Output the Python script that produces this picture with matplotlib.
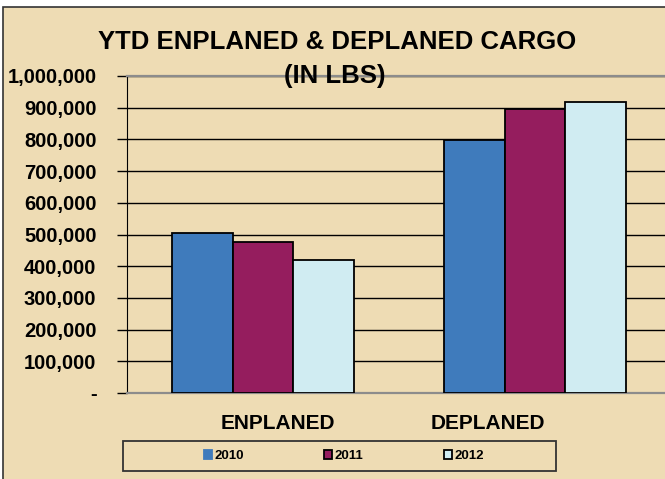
import matplotlib
matplotlib.use("Agg")
import matplotlib.pyplot as plt
import matplotlib.transforms as mtransforms
from matplotlib.patches import Rectangle
import numpy as np

# data
categories = ["ENPLANED", "DEPLANED"]
years = ["2010", "2011", "2012"]
cargo_2010 = [504000, 798000]
cargo_2011 = [476000, 895000]
cargo_2012 = [421000, 919000]
y_ticks = [0, 100000, 200000, 300000, 400000, 500000, 600000, 700000, 800000, 900000, 1000000]

colors = ["#3F7BBC", "#951D5E", "#D0ECF2"]
paper = "#EEDCB4"

plt.rcParams['font.family'] = ['Liberation Sans', 'DejaVu Sans']

fig = plt.figure(figsize=(6.65, 4.79), dpi=100, facecolor="white")

# parchment panel with dark frame on top / left
fig.patches.append(Rectangle((3 / 665, -0.05), 1.2, 1 - 7 / 479 + 0.05, transform=fig.transFigure,
                             facecolor=paper, edgecolor="#333333", lw=1.2, zorder=-5))

ax = fig.add_axes([127 / 665, 1 - 393 / 479, 544 / 665, 317 / 479])
ax.set_facecolor("none")

x = np.arange(len(categories))
w = 0.222
series = [cargo_2010, cargo_2011, cargo_2012]
for i, vals in enumerate(series):
    ax.bar(x + (i - 1) * w, vals, w, color=colors[i], edgecolor="black", lw=1.3,
           label=years[i], zorder=3)

ax.set_xlim(-0.5, 1.5)
ax.set_ylim(0, 1000000)
ax.set_yticks(y_ticks)
ax.set_yticklabels(["-" if v == 0 else f"{v:,}" for v in y_ticks],
                   fontsize=14.5, fontweight="bold")
ax.yaxis.grid(True, color="black", lw=1, zorder=1)
ax.tick_params(axis="y", length=7, width=1, pad=15, color="black")

ax.set_xticks(x)
ax.set_xticklabels(categories, fontsize=15, fontweight="bold")
ax.tick_params(axis="x", length=0, pad=15)
# labels are not centred under their groups in the original
shifts = [11, -34]
for lab, dx in zip(ax.get_xticklabels(), shifts):
    lab.set_transform(lab.get_transform() + mtransforms.ScaledTranslation(dx / 72, 0, fig.dpi_scale_trans))

for s in ["top", "bottom"]:
    ax.spines[s].set_color("#8C8C8C")
    ax.spines[s].set_linewidth(1.6)
ax.spines["right"].set_visible(False)
ax.spines["left"].set_color("black")

fig.text(0.5075, 1 - 42 / 479, "YTD ENPLANED & DEPLANED CARGO", ha="center", va="center",
         fontsize=18.5, fontweight="bold")
fig.text(0.504, 1 - 76 / 479, "(IN LBS)", ha="center", va="center",
         fontsize=18.5, fontweight="bold")

# legend box
fig.patches.append(Rectangle((123 / 665, 8 / 479), 433 / 665, 30 / 479, transform=fig.transFigure,
                             facecolor="none", edgecolor="#333333", lw=1.3, zorder=2))
leg = fig.legend(loc="center", bbox_to_anchor=(344 / 665, 1 - 456 / 479), ncol=3, frameon=False,
                 prop={"size": 9.5, "weight": "bold"}, handlelength=0.6, handleheight=0.6,
                 handletextpad=0.2, columnspacing=6.1)
leg.legend_handles[0].set_edgecolor(colors[0])

fig.savefig("out.png", dpi=100, facecolor=fig.get_facecolor())
